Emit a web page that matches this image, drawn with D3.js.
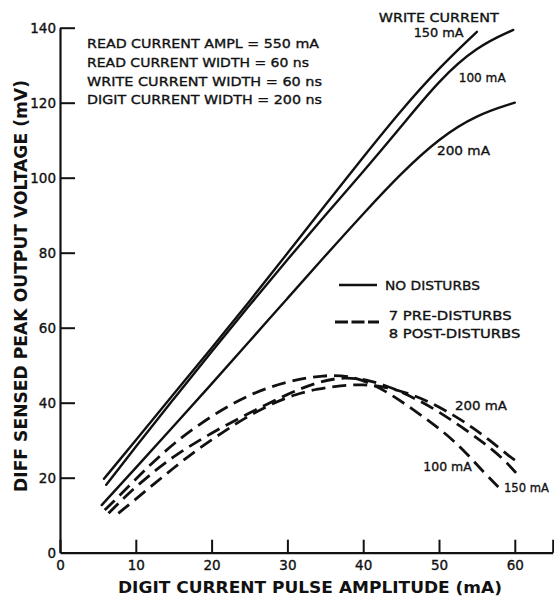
<!DOCTYPE html>
<html>
<head>
<meta charset="utf-8">
<script src="https://cdn.jsdelivr.net/npm/d3@7"></script>
<style>
  html, body { margin: 0; padding: 0; background: #fff; }
  svg { display: block; }
</style>
</head>
<body>
<script>
// Axis ticks
const xTicks = [0, 10, 20, 30, 40, 50, 60, 65];
const yTicks = [0, 20, 40, 60, 80, 100, 120, 140];

// Output voltage (mV) vs digit current (mA), no disturbs, by write current
const noDisturb150 = [[5.8,19.7],[10,30],[15,42.3],[20,54.6],[25,67],[30,79.8],[35,92.8],[40,105.5],[45,118],[50,129.3],[55,138.9]];
const noDisturb100 = [[6.1,18.1],[10,28.3],[15,41],[20,53.6],[25,66],[30,78.2],[35,90],[40,101.6],[45,113.6],[50,126],[55,135],[59.8,139.4]];
const noDisturb200 = [[5.5,12.7],[10,22.6],[15,33.8],[20,45],[25,56.4],[30,67.8],[35,79.2],[40,90.4],[45,101.2],[50,110.5],[55,116.8],[60,120]];

// With 7 pre-disturbs / 8 post-disturbs, by write current
const disturb100 = [[5.9,11.4],[8,15.5],[11,21.7],[15,29.3],[20,36.6],[25,42.3],[30,45.8],[35,47.4],[38,47.2],[41,45.3],[44,41.8],[47,37.6],[50,33.2],[53,28],[56,21.2],[58,17.2]];
const disturb150 = [[6.4,10.5],[9,15.8],[12,21],[15,25.8],[20,32],[25,37.3],[30,42.3],[34,45.6],[37.5,46.9],[41,46],[44,43.8],[47,41],[50,37.6],[53,33.5],[56,29.2],[58.5,25],[60.3,21]];
const disturb200 = [[7.7,10.5],[10,14.3],[12.5,18.5],[15,22.6],[17.5,26.6],[20,30.1],[22.5,33.5],[25,36.6],[28,39.8],[31,42.2],[34,43.7],[37,44.6],[40,44.9],[43,44.2],[46,42.5],[49,40],[52,36.6],[54.5,33.3],[57,29.5],[59.4,25.5],[60.3,24.3]];

const conditions = [
  "READ CURRENT AMPL = 550 mA",
  "READ CURRENT WIDTH = 60 ns",
  "WRITE CURRENT WIDTH = 60 ns",
  "DIGIT CURRENT WIDTH = 200 ns"
];

const W = 554, H = 597;
const FONT = "'DejaVu Sans', sans-serif";

const svg = d3.select("body").append("svg")
  .attr("width", W).attr("height", H)
  .attr("viewBox", `0 0 ${W} ${H}`);
svg.append("rect").attr("width", W).attr("height", H).attr("fill", "#fff");

const x = d3.scaleLinear().domain([0, 65]).range([60, 552.7]);
const y = d3.scaleLinear().domain([0, 140]).range([552.7, 27.7]);

// x axis, ticks pointing up into the plot
const gx = svg.append("g")
  .attr("transform", `translate(0,${y(0)})`)
  .call(d3.axisBottom(x).tickValues(xTicks).tickSize(-13).tickSizeOuter(0).tickPadding(8)
        .tickFormat(d => d === 65 ? "" : d));
// y axis, ticks pointing right into the plot
const gy = svg.append("g")
  .attr("transform", `translate(${x(0)},0)`)
  .call(d3.axisLeft(y).tickValues(yTicks).tickSize(-15).tickSizeOuter(0).tickPadding(4));

[gx, gy].forEach(g => {
  g.select(".domain").attr("stroke", "#111").attr("stroke-width", 2.2);
  g.selectAll(".tick line").attr("stroke", "#111").attr("stroke-width", 2);
  g.selectAll(".tick text").attr("fill", "#111")
    .attr("stroke", "#111").attr("stroke-width", 0.35)
    .style("font-family", FONT).style("font-size", "13.5px");
});
gy.selectAll(".tick").filter(d => d === 0).select("line").remove();

// Curves
const line = d3.line()
  .x(d => x(d[0])).y(d => y(d[1]))
  .curve(d3.curveBasis);

const solid = [noDisturb150, noDisturb100, noDisturb200];
const dashed = [disturb100, disturb150, disturb200];

svg.append("g").selectAll("path").data(solid).join("path")
  .attr("d", line).attr("fill", "none")
  .attr("stroke", "#111").attr("stroke-width", 2.4)
  .attr("stroke-linecap", "round");

svg.append("g").selectAll("path").data(dashed).join("path")
  .attr("d", line).attr("fill", "none")
  .attr("stroke", "#111").attr("stroke-width", 2.8)
  .attr("stroke-dasharray", "14,7");

// Text helper: left edge, vertical centre of capitals, target width
function label(txt, x0, yc, size, width, opts = {}) {
  const t = svg.append("text")
    .attr("x", x0).attr("y", yc + size * 0.365)
    .attr("fill", "#111")
    .attr("stroke", "#111").attr("stroke-width", opts.bold ? 0 : 0.35)
    .style("font-family", FONT)
    .style("font-size", size + "px")
    .style("font-weight", opts.bold ? "bold" : "normal")
    .text(txt);
  if (width) t.attr("textLength", width).attr("lengthAdjust", "spacingAndGlyphs");
  return t;
}

// Test conditions block
const condY = [43.3, 62.7, 81, 99];
const condW = [232, 222, 235, 235];
conditions.forEach((c, i) => label(c, 87, condY[i], 13, condW[i]));

// Series labels
label("WRITE CURRENT", 378.7, 17.3, 13, 120);
label("150 mA", 413.7, 32, 13, 50);
label("100 mA", 458.7, 77, 13, 47);
label("200 mA", 437, 150, 13, 53);
label("200 mA", 455, 405.5, 13, 52);
label("100 mA", 423.3, 466, 13, 48.4);
label("150 mA", 504, 487, 13, 45);

// Legend
svg.append("line").attr("x1", 339).attr("x2", 377).attr("y1", 285).attr("y2", 285)
  .attr("stroke", "#111").attr("stroke-width", 2.6);
label("NO DISTURBS", 385, 285, 13, 95);
svg.append("line").attr("x1", 335).attr("x2", 379).attr("y1", 322).attr("y2", 322)
  .attr("stroke", "#111").attr("stroke-width", 2.8).attr("stroke-dasharray", "13,3.5");
label("7 PRE-DISTURBS", 388.7, 315, 13, 123);
label("8 POST-DISTURBS", 388.7, 333, 13, 131.6);

// Axis titles
label("DIGIT CURRENT PULSE AMPLITUDE (mA)", 118, 586.5, 16.5, 384, { bold: true });
svg.append("text")
  .attr("transform", "translate(26.5,492) rotate(-90)")
  .attr("fill", "#111")
  .style("font-family", FONT).style("font-size", "17px").style("font-weight", "bold")
  .attr("textLength", 412).attr("lengthAdjust", "spacingAndGlyphs")
  .text("DIFF SENSED PEAK OUTPUT VOLTAGE (mV)");
</script>
</body>
</html>
